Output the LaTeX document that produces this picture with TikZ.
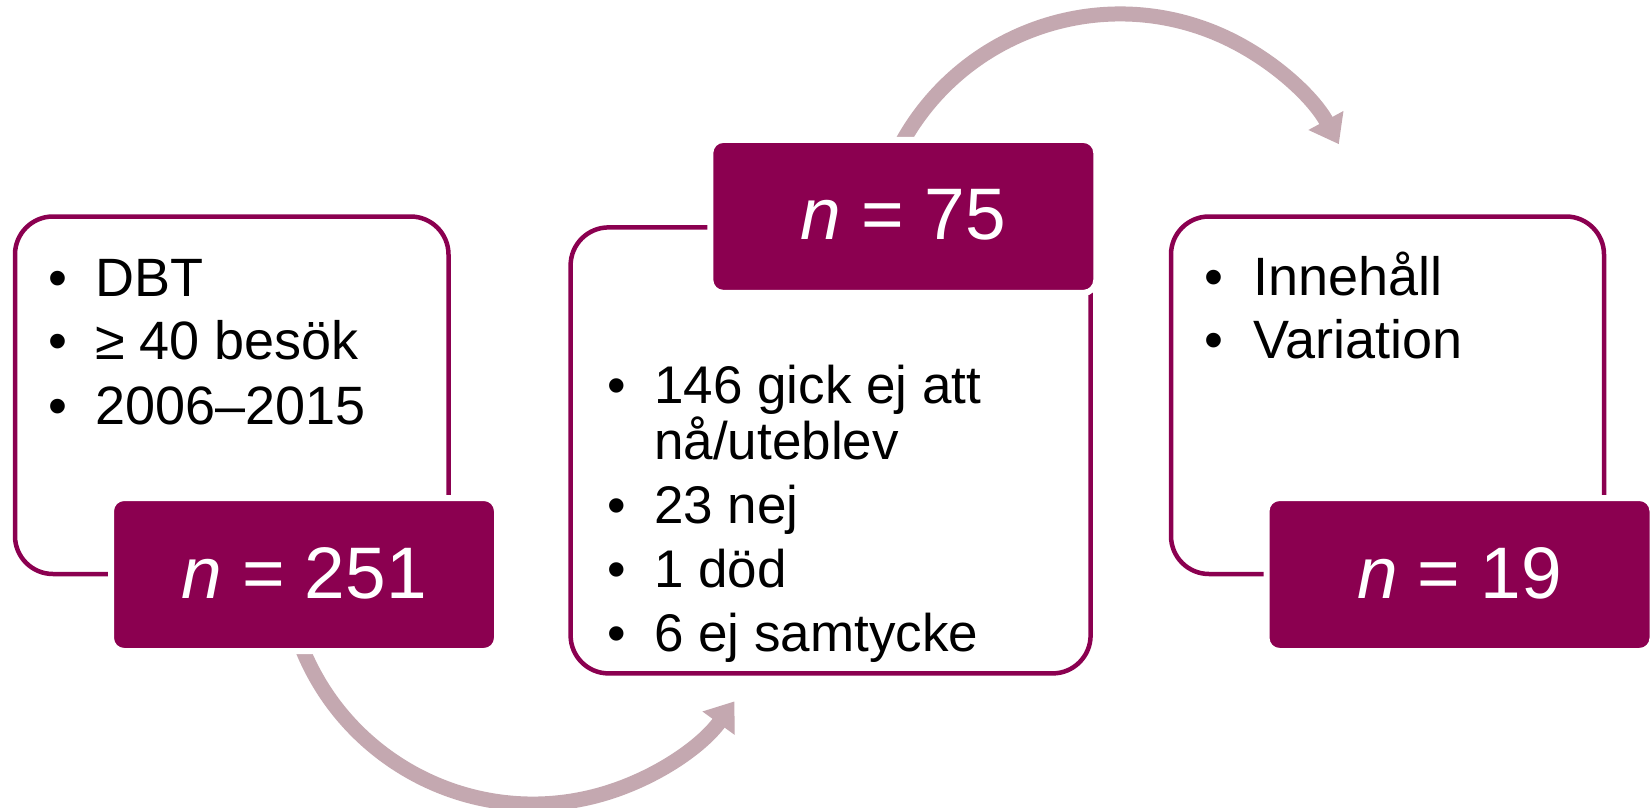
\documentclass[tikz,border=0pt]{standalone}
\usepackage{fontspec}
\setmainfont{Liberation Sans}
\usetikzlibrary{arrows.meta}
\definecolor{plum}{RGB}{139,0,80}
\definecolor{mauve}{RGB}{196,168,176}
\begin{document}
\begin{tikzpicture}[x=1pt,y=-1pt,
  flow/.style={draw=mauve, line width=15pt, -{Triangle[width=38pt,length=27pt]}},
  frame/.style={draw=plum, line width=4.5pt, rounded corners=38pt, rectangle, inner sep=0pt},
  count/.style={fill=plum, draw=white, line width=6pt, rounded corners=13pt, rectangle,
                inner sep=0pt, text=white, font=\fontsize{73}{80}\selectfont,
                minimum width=386pt, minimum height=153pt, text height=47pt, text depth=0pt},
  item/.style={anchor=base west, inner sep=0pt, font=\fontsize{54}{64}\selectfont},
  dot/.style={anchor=base, inner sep=0pt, font=\fontsize{54}{64}\selectfont},
  itemsm/.style={item, font=\fontsize{53}{56}\selectfont},
  dotsm/.style={dot, font=\fontsize{53}{56}\selectfont},
]
\useasboundingbox[fill=white] (0,0) rectangle (1650,808);

% curved flow arrows (drawn first, so the count boxes cover their tails)
\coordinate (lowc) at (533,555);
\coordinate (highc) at (1120,263);
\draw[flow] (lowc) ++(165:249) arc[start angle=165, end angle=36, radius=249];
\draw[flow] (highc) ++(-155:249) arc[start angle=-155, end angle=-28.5, radius=249];

% outlined frames
\node[frame, minimum width=433.5pt, minimum height=357.5pt] (frameA) at (231.75,395.25) {};
\node[frame, minimum width=520pt, minimum height=446pt] (frameB) at (830.6,450.4) {};
\node[frame, minimum width=433pt, minimum height=357.5pt] (frameC) at (1387.5,395.25) {};

% filled count boxes
\node[count] (countA) at (304,574.5) {\itshape n\upshape{} = 251};
\node[count] (countB) at (903.3,216.4) {\itshape n\upshape{} = 75};
\node[count] (countC) at (1459.5,574.5) {\itshape n\upshape{} = 19};

% first list
\node[dot] (a1d) at (58,296) {•};
\node[item] (a1) at (95,296) {DBT};
\node[dot] (a2d) at (58,359) {•};
\node[item] (a2) at (95,359) {≥ 40 besök};
\node[dot] (a3d) at (58,424) {•};
\node[item] (a3) at (95,424) {2006–2015};

% second list
\node[dotsm] (b1d) at (617,403) {•};
\node[itemsm] (b1) at (654,403) {146 gick ej att};
\node[itemsm] (b1b) at (654,459) {nå/uteblev};
\node[dotsm] (b2d) at (617,523) {•};
\node[itemsm] (b2) at (654,523) {23 nej};
\node[dotsm] (b3d) at (617,587) {•};
\node[itemsm] (b3) at (654,587) {1 död};
\node[dotsm] (b4d) at (617,651) {•};
\node[itemsm] (b4) at (654,651) {6 ej samtycke};

% third list
\node[dot] (c1d) at (1214,295) {•};
\node[item] (c1) at (1253,295) {Innehåll};
\node[dot] (c2d) at (1214,358) {•};
\node[item] (c2) at (1253,358) {Variation};
\end{tikzpicture}
\end{document}
